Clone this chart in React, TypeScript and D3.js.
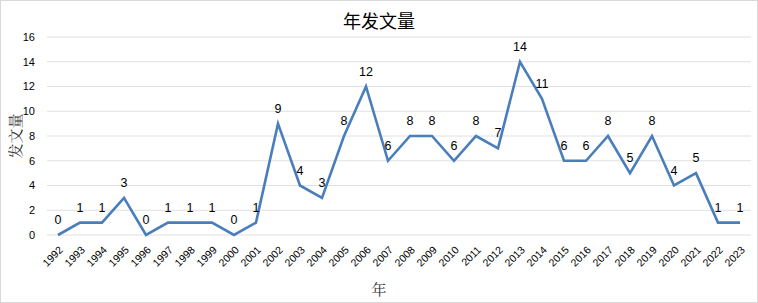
import React from "react";
import * as d3 from "d3";

const years = ["1992","1993","1994","1995","1996","1997","1998","1999","2000","2001","2002","2003","2004","2005","2006","2007","2008","2009","2010","2011","2012","2013","2014","2015","2016","2017","2018","2019","2020","2021","2022","2023"];
const counts = [0,1,1,3,0,1,1,1,0,1,9,4,3,8,12,6,8,8,6,8,7,14,11,6,6,8,5,8,4,5,1,1];
const yTicks = [0,2,4,6,8,10,12,14,16];

const W = 758, H = 303;
const M = { left: 47, right: 7, top: 37, bottom: 68 };

export default function App() {
  const x = d3.scaleBand<string>().domain(years).range([M.left, W - M.right]);
  const y = d3.scaleLinear().domain([0, 16]).range([H - M.bottom, M.top]);
  const cx = (d: string) => (x(d) as number) + x.bandwidth() / 2;
  const line = d3.line<number>().x((_, i) => cx(years[i])).y((v) => y(v));
  const tickFont = "'Liberation Sans', Arial, sans-serif";
  return (
    <svg width={W} height={H} style={{ position: "absolute", left: 0, top: 0, background: "#fff" }}>
      <rect x={0.5} y={0.5} width={W - 1} height={H - 1} fill="#fff" stroke="#d9d9d9" />
      <text x={379} y={28} textAnchor="middle" fontSize={18} fontFamily="'Noto Sans CJK SC', sans-serif" fill="#000">年发文量</text>
      {yTicks.map((t) => (
        <g key={t}>
          <line x1={M.left} x2={W - M.right} y1={y(t)} y2={y(t)} stroke="#e0e0e0" strokeWidth={1} />
          <text x={M.left - 12} y={y(t)} dy="0.35em" textAnchor="end" fontSize={11} fontFamily={tickFont} fill="#000">{t}</text>
        </g>
      ))}
      {years.map((yr) => (
        <text key={yr} transform={`translate(${cx(yr) + 3},${H - M.bottom + 13}) rotate(-45)`} textAnchor="end" dy="0.35em" fontSize={10.5} fontFamily={tickFont} fill="#000">{yr}</text>
      ))}
      <path d={line(counts) || ""} fill="none" stroke="#4a7ebb" strokeWidth={2.6} strokeLinejoin="miter" />
      {counts.map((v, i) => (
        <text key={i} x={cx(years[i])} y={y(v) - 11} textAnchor="middle" fontSize={12.5} fontFamily={tickFont} fill="#000">{v}</text>
      ))}
      <text transform={`translate(16,${(M.top + H - M.bottom) / 2}) rotate(-90)`} textAnchor="middle" dy="0.35em" fontSize={15} fontFamily="'Noto Serif CJK SC', 'Noto Sans CJK SC', serif" fill="#333">发文量</text>
      <text x={379} y={295} textAnchor="middle" fontSize={15} fontFamily="'Noto Serif CJK SC', 'Noto Sans CJK SC', serif" fill="#333">年</text>
    </svg>
  );
}
